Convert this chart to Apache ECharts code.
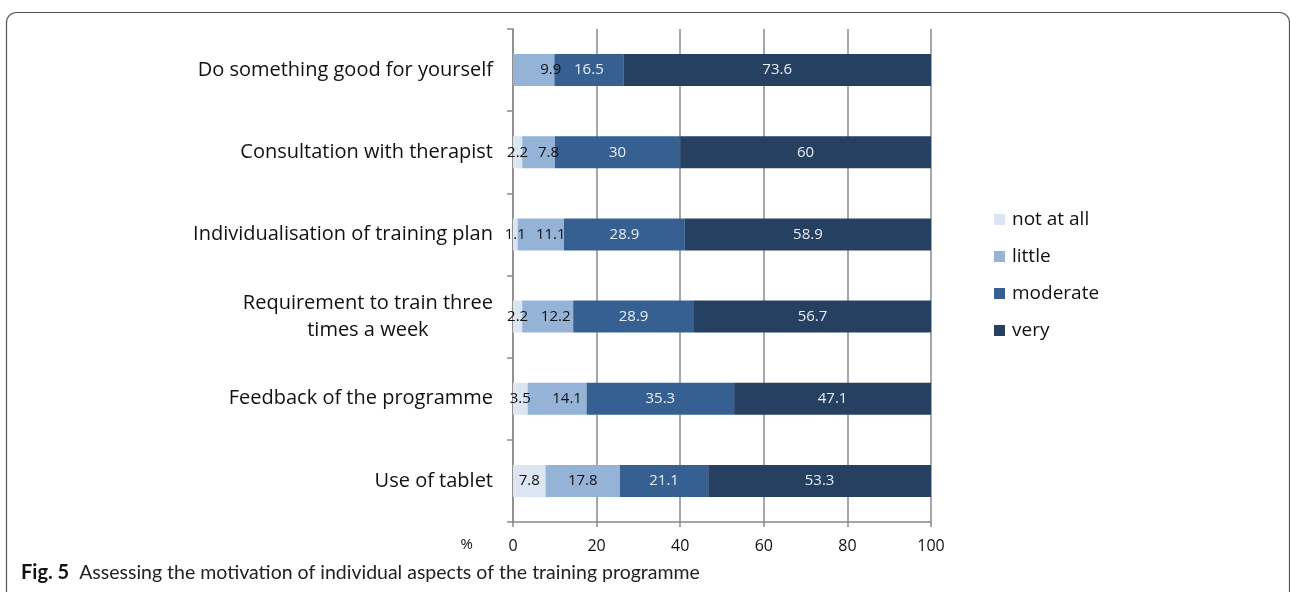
<!DOCTYPE html>
<html>
<head>
<meta charset="utf-8">
<script src="https://cdn.jsdelivr.net/npm/echarts@6/dist/echarts.min.js"></script>
<style>
  html, body { margin: 0; padding: 0; background: #fff; }
  #chart { width: 1290px; height: 592px; }
</style>
</head>
<body>
<div id="chart"></div>
<script>
// data
var categories = [
  'Do something good for yourself',
  'Consultation with therapist',
  'Individualisation of training plan',
  'Requirement to train three\ntimes a week',
  'Feedback of the programme',
  'Use of tablet'
]
var notAtAll = [0, 2.2, 1.1, 2.2, 3.5, 7.8]
var little = [9.9, 7.8, 11.1, 12.2, 14.1, 17.8]
var moderate = [16.5, 30, 28.9, 28.9, 35.3, 21.1]
var very = [73.6, 60, 58.9, 56.7, 47.1, 53.3]
var seriesNames = ['not at all', 'little', 'moderate', 'very']

var font = 'Open Sans'
var colors = ['#dce6f2', '#95b3d7', '#376092', '#254061']
var labelColors = ['#111', '#111', '#e8edf4', '#e8edf4']
// labels of the "little" series were nudged right in the original
var littleLabelShift = [17, 10, 10, 8, 10, 0]

var myChart = echarts.init(document.getElementById('chart'))

var makeSeries = function (name, data, i, shift) {
  return {
    name: name,
    type: 'bar',
    stack: 'total',
    data: data.map(function (v, k) {
      var item = { value: v }
      if (shift && shift[k]) item.label = { offset: [shift[k], 0] }
      return item
    }),
    barWidth: '39%',
    itemStyle: { color: colors[i] },
    label: {
      show: true,
      position: 'inside',
      color: labelColors[i],
      fontFamily: font,
      fontSize: 15,
      formatter: function (p) { return p.value ? String(p.value) : '' }
    }
  }
}

var option = {
  animation: false,
  backgroundColor: '#fff',
  title: {
    left: 21,
    top: 563,
    padding: 0,
    text: '{b|Fig. 5}  {n|Assessing the motivation of individual aspects of the training programme}',
    textStyle: {
      rich: {
        b: { fontFamily: 'Lato', fontWeight: 'bold', fontSize: 20, color: '#111' },
        n: { fontFamily: 'Lato', fontWeight: 'normal', fontSize: 19.5, color: '#222' }
      }
    }
  },
  legend: {
    orient: 'vertical',
    left: 994,
    top: 210,
    padding: 0,
    itemWidth: 11,
    itemHeight: 11,
    itemGap: 18,
    icon: 'rect',
    data: seriesNames,
    textStyle: { fontFamily: font, fontSize: 19, color: '#111', padding: [0, 0, 0, 2] }
  },
  grid: {
    left: 513,
    right: 359,
    top: 29,
    bottom: 70
  },
  xAxis: {
    type: 'value',
    min: 0,
    max: 100,
    interval: 20,
    name: '%',
    nameLocation: 'start',
    nameGap: 40,
    nameTextStyle: { fontFamily: font, fontSize: 15, color: '#111', verticalAlign: 'top', padding: [15, 0, 0, 0] },
    axisLine: { show: true, lineStyle: { color: '#8a8a8a', width: 1.5 } },
    axisTick: { show: true, length: 5, lineStyle: { color: '#8a8a8a', width: 1.5 } },
    axisLabel: { margin: 16, fontFamily: font, fontSize: 16, color: '#111' },
    splitLine: { show: true, lineStyle: { color: '#8a8a8a', width: 1.5 } }
  },
  yAxis: {
    type: 'category',
    inverse: true,
    data: categories,
    axisLine: { show: true, lineStyle: { color: '#8a8a8a', width: 1.5 } },
    axisTick: { show: true, length: 6, lineStyle: { color: '#8a8a8a', width: 1.5 } },
    axisLabel: {
      margin: 20,
      fontFamily: font,
      fontSize: 20,
      color: '#111',
      lineHeight: 27,
      formatter: function (v) {
        if (v.indexOf('\n') < 0) return v
        return v.split('\n').map(function (s) { return '{c|' + s + '}' }).join('\n')
      },
      rich: {
        c: { align: 'center', fontFamily: font, fontSize: 20, color: '#111', lineHeight: 27 }
      }
    }
  },
  graphic: [{
    type: 'rect',
    silent: true,
    shape: { x: 6.5, y: 12.5, width: 1283, height: 640, r: 10 },
    style: { fill: 'none', stroke: '#555', lineWidth: 1.2 }
  }],
  series: [
    makeSeries(seriesNames[0], notAtAll, 0),
    makeSeries(seriesNames[1], little, 1, littleLabelShift),
    makeSeries(seriesNames[2], moderate, 2),
    makeSeries(seriesNames[3], very, 3)
  ]
}

option && myChart.setOption(option)
window.addEventListener('resize', function () {
  myChart.resize()
})
</script>
</body>
</html>
